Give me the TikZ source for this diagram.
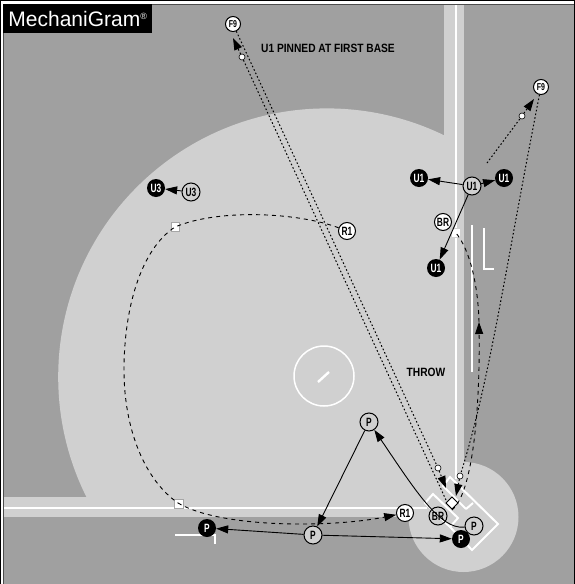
\documentclass[tikz,border=0pt]{standalone}
\usepackage{fontspec}
\setmainfont{Liberation Sans}
\newfontfamily\labelfont[FakeStretch=0.85]{Liberation Sans}
\newfontfamily\nodefont[FakeStretch=0.7]{Liberation Sans}
\usepackage{xcolor}
\usetikzlibrary{arrows.meta, backgrounds}
\definecolor{turf}{HTML}{A0A0A0}
\definecolor{dirt}{HTML}{D0D0D0}

\begin{document}
\begin{tikzpicture}[
  x=1pt, y=-1pt,
  every node/.style={font=\nodefont\bfseries\fontsize{12}{13}\selectfont},
  ump/.style={circle, draw=black, fill=dirt, line width=1pt, minimum size=18pt, inner sep=0pt},
  white/.style={ump, fill=white, minimum size=17pt},
  solid/.style={circle, fill=black, text=white, minimum size=18pt, inner sep=0pt},
  fielder/.style={ump, fill=white, minimum size=15pt, font=\nodefont\bfseries\fontsize{10}{11}\selectfont},
  tag/.style={font=\labelfont\bfseries\fontsize{12}{13}\selectfont},
  dot/.style={circle, draw=black, fill=white, line width=0.6pt, minimum size=6pt, inner sep=0pt},
  base/.style={draw=gray!70, fill=white, line width=0.6pt},
  chalk/.style={draw=white, line width=2pt},
  tip/.style={-{Triangle[length=12pt, width=8pt]}},
  arr/.style={tip, line width=0.9pt},
  run/.style={line width=0.9pt, dash pattern=on 4pt off 4pt},
  ball/.style={line width=1pt, dash pattern=on 1.6pt off 2.2pt}
]
\useasboundingbox (0,0) rectangle (574,584);

% --- Field ---
\begin{scope}[on background layer]
  \fill[white] (0,0) rectangle (574,584);
  \fill[turf] (3,4) rectangle (574,584);
  \begin{scope}
    \clip (4,4) rectangle (444,500);
    \fill[dirt] (326.8,377) circle (268.6);
  \end{scope}
  \fill[dirt] (444,5) rectangle (464,520);
  \fill[dirt] (4,497) rectangle (464,517);
  \fill[dirt] (463.5,517) circle (55);
  \draw[black!70, line width=1pt] (3.5,584) -- (3.5,4.5) -- (574,4.5);
  \draw[chalk] (456,5) -- (456,479);
  \draw[chalk] (4,507.5) -- (427,507.5);
  \draw[chalk, line width=1.5pt] (324,376) circle (30);
  \draw[chalk, line width=2.4pt] (318,382) -- (329,372);
  \draw[chalk] (472,225) -- (472,372);
  \draw[chalk] (484,228) -- (484,268.5) -- (494,268.5);
  \draw[chalk] (175,535) -- (215,535) -- (215,544);
  \draw[chalk] (466,509) -- (443,486) -- (450,477) -- (498,524) -- (472,550) -- (450,527) -- (425,503) -- (433,494) -- (458,518) -- (450,527);
  \draw[chalk] (466,509) -- (473,503);
  \fill[white] (452,497) -- (458,503) -- (452,509) -- (446,503) -- cycle;
  \draw[base] (174,499) rectangle (183,508);
  \draw[base] (171,222) rectangle (179,231);
  \draw[base, draw=dirt] (451,228) rectangle (460,237);
\end{scope}

% --- Title ---
\node[fill=black, text=white, anchor=north west, minimum width=149pt, minimum height=29pt, inner sep=0pt, text depth=0pt,
      font=\fontsize{21}{23}\selectfont] (title) at (3,4) {MechaniGram\raisebox{6.5pt}{\fontsize{9}{9}\selectfont®}};
\node[tag] (pinned) at (328,48) {U1 PINNED AT FIRST BASE};
\node[tag] (throw) at (426,372) {THROW};

% --- Fielders ---
\node[fielder] (fa) at (233,24) {F9};
\node[fielder] (fb) at (541,87) {F9};
\node[dot] (mka) at (242,57) {};
\node[dot] (mkb) at (438,468) {};
\node[dot] (mkc) at (460,476) {};
\node[dot] (mkd) at (522,116) {};

% --- Umpires ---
\node[solid] (ua) at (419,178) {U1};
\node[solid] (ub) at (504,178) {U1};
\node[solid] (uc) at (436,268) {U1};
\node[ump] (ud) at (472,186) {U1};
\node[solid] (ue) at (156,188) {U3};
\node[ump] (uf) at (191,192) {U3};
\node[white] (bra) at (443,222) {BR};
\node[ump, fill=none] (brb) at (438,516) {BR};
\node[white] (ra) at (347,231) {R1};
\node[white] (rb) at (405,513) {R1};
\node[ump] (pa) at (369,422) {P};
\node[ump] (pb) at (313,535) {P};
\node[ump] (pc) at (474,526) {P};
\node[solid] (pd) at (207,528) {P};
\node[solid] (pe) at (461,539) {P};

% --- Free ends ---
\coordinate (plate) at (452,510);
\coordinate (plateb) at (446,500);
\coordinate (tipa) at (233,38);
\coordinate (tipb) at (446,488);
\coordinate (tipc) at (456,496);
\coordinate (tipd) at (534,99);
\coordinate (tipe) at (479,322);
\coordinate (starta) at (487,163);
\coordinate (thirdsq) at (178,503);
\coordinate (leftsq) at (175,227);
\coordinate (firstsq) at (456,233);

% --- Arrows ---
\begin{scope}[on background layer]
  \draw[arr] (ud) -- (ua);
  \draw[arr] (ud) -- (ub);
  \draw[arr] (ud) -- (uc);
  \draw[arr] (uf) -- (ue);
  \draw[arr] (pb) -- (pd);
  \draw[arr] (pb) -- (pe);
  \draw[arr] (pa) -- (pb);
  \draw[arr] (pc) .. controls (440,530) and (415,490) .. (pa);
  \draw[run] (ra) .. controls (300,213) and (220,208) .. (leftsq)
    .. controls (140,250) and (124,310) .. (124,370)
    .. controls (124,430) and (145,480) .. (thirdsq);
  \draw[run, tip] (thirdsq) .. controls (220,528) and (330,528) .. (rb);
  \draw[run, tip] (plate) .. controls (474,492) and (480,400) .. (tipe);
  \draw[run] (tipe) .. controls (478,285) and (470,250) .. (firstsq);
  \draw[ball] (plateb) -- (mka);
  \draw[ball, tip] (mka) -- (tipa);
  \draw[ball] (fa) -- (mkb);
  \draw[ball, tip] (mkb) -- (tipb);
  \draw[ball] (fb) .. controls (505,270) and (490,380) .. (mkc);
  \draw[ball, tip] (mkc) -- (tipc);
  \draw[ball] (starta) -- (mkd);
  \draw[ball, tip] (mkd) -- (tipd);
\end{scope}

\end{tikzpicture}
\end{document}
